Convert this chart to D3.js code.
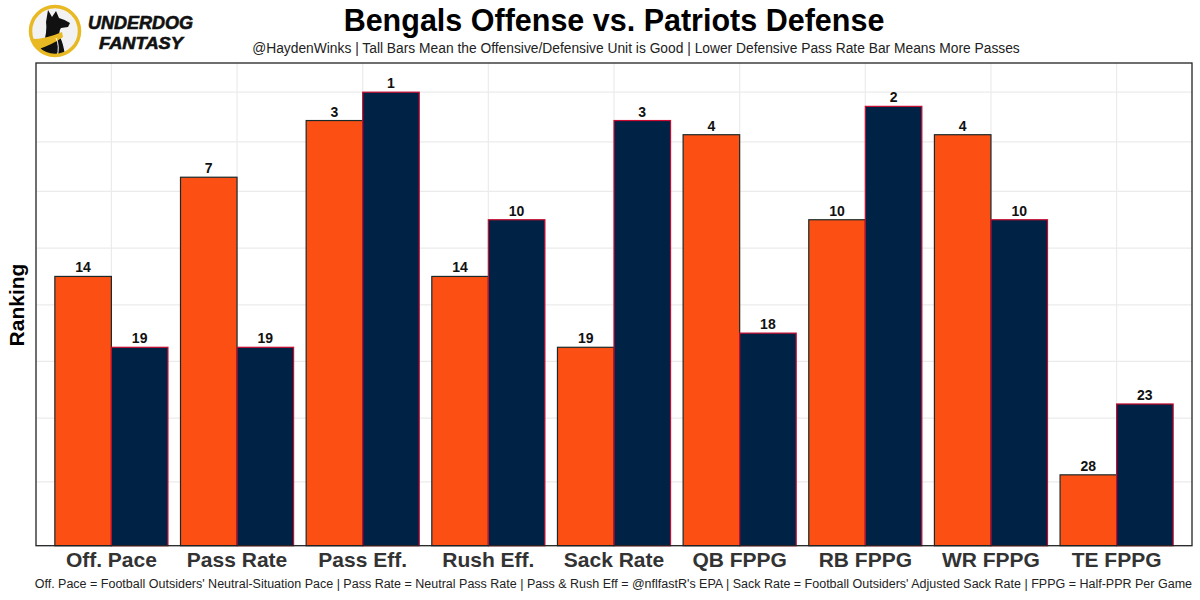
<!DOCTYPE html>
<html>
<head>
<meta charset="utf-8">
<script src="https://cdn.jsdelivr.net/npm/d3@7"></script>
<style>
  html, body { margin: 0; padding: 0; background: #fff; }
  svg { display: block; font-family: "Liberation Sans", Arial, sans-serif; }
</style>
</head>
<body>
<svg id="chart" width="1200" height="600"></svg>
<script>
const categories = ["Off. Pace", "Pass Rate", "Pass Eff.", "Rush Eff.", "Sack Rate", "QB FPPG", "RB FPPG", "WR FPPG", "TE FPPG"];
const offenseRank = [14, 7, 3, 14, 19, 4, 10, 4, 28];
const defenseRank = [19, 19, 1, 10, 3, 18, 2, 10, 23];
const gridRanks = [1, 4.5, 8, 12, 16, 20, 24, 28.5];
const seriesNames = ["Offense", "Defense"];
const maxRank = 33;

const svg = d3.select("#chart");
const panel = { left: 36, right: 1192, top: 63, bottom: 545.7 };

const x = d3.scaleBand().domain(categories).range([panel.left, panel.right]).paddingInner(0.1).paddingOuter(0.15);
const xi = d3.scaleBand().domain(seriesNames).range([0, x.bandwidth()]);
const y = d3.scaleLinear().domain([0, 34.06]).range([panel.bottom, panel.top]);
const h = r => maxRank - r;

// gridlines
const g = svg.append("g");
g.selectAll("line.hg").data(gridRanks).join("line")
  .attr("x1", panel.left).attr("x2", panel.right)
  .attr("y1", d => y(h(d))).attr("y2", d => y(h(d)))
  .attr("stroke", "#ebebeb").attr("stroke-width", 1.2);
g.selectAll("line.vg").data(categories).join("line")
  .attr("x1", d => x(d) + x.bandwidth() / 2).attr("x2", d => x(d) + x.bandwidth() / 2)
  .attr("y1", panel.top).attr("y2", panel.bottom)
  .attr("stroke", "#ebebeb").attr("stroke-width", 1.2);

const rows = categories.map((c, i) => ({ c, vals: [
  { s: "Offense", r: offenseRank[i] },
  { s: "Defense", r: defenseRank[i] }
]}));

const grp = svg.append("g").selectAll("g").data(rows).join("g")
  .attr("transform", d => `translate(${x(d.c)},0)`);

grp.selectAll("rect").data(d => d.vals).join("rect")
  .attr("x", d => xi(d.s))
  .attr("width", xi.bandwidth())
  .attr("y", d => y(h(d.r)))
  .attr("height", d => y(0) - y(h(d.r)))
  .attr("fill", d => d.s === "Offense" ? "#FB4F14" : "#002244")
  .attr("stroke", d => d.s === "Offense" ? "#1a2a2a" : "#C60C30")
  .attr("stroke-width", 1.2);

grp.selectAll("text").data(d => d.vals).join("text")
  .attr("x", d => xi(d.s) + xi.bandwidth() / 2)
  .attr("y", d => y(h(d.r)) - 4)
  .attr("text-anchor", "middle")
  .attr("font-size", 14).attr("font-weight", "bold").attr("fill", "#111")
  .text(d => d.r);

// panel border
svg.append("rect")
  .attr("x", panel.left).attr("y", panel.top)
  .attr("width", panel.right - panel.left).attr("height", panel.bottom - panel.top)
  .attr("fill", "none").attr("stroke", "#222").attr("stroke-width", 1.3);

// x axis labels
const xAxis = d3.axisBottom(x).tickSize(0).tickPadding(6);
const xa = svg.append("g").attr("transform", `translate(0,${panel.bottom})`).call(xAxis);
xa.select(".domain").remove();
xa.selectAll("text").attr("font-size", 21).attr("font-weight", "bold").attr("fill", "#333")
  .attr("font-family", "Liberation Sans, Arial, sans-serif");

// y title
svg.append("text").attr("transform", "translate(24,305) rotate(-90)")
  .attr("text-anchor", "middle").attr("font-size", 21).attr("font-weight", "bold").attr("fill", "#000")
  .text("Ranking");

// title & subtitle
svg.append("text").attr("x", 614).attr("y", 31).attr("text-anchor", "middle")
  .attr("font-size", 30.5).attr("font-weight", "bold").attr("fill", "#000")
  .text("Bengals Offense vs. Patriots Defense");
svg.append("text").attr("x", 636).attr("y", 53).attr("text-anchor", "middle")
  .attr("font-size", 13.8).attr("fill", "#222")
  .text("@HaydenWinks | Tall Bars Mean the Offensive/Defensive Unit is Good | Lower Defensive Pass Rate Bar Means More Passes");

// caption
svg.append("text").attr("x", 1192).attr("y", 588).attr("text-anchor", "end")
  .attr("font-size", 12.5).attr("fill", "#222")
  .text("Off. Pace = Football Outsiders' Neutral-Situation Pace | Pass Rate = Neutral Pass Rate | Pass & Rush Eff = @nflfastR's EPA | Sack Rate = Football Outsiders' Adjusted Sack Rate | FPPG = Half-PPR Per Game");

// logo
const logo = svg.append("g");
logo.append("clipPath").attr("id", "lc").append("circle").attr("cx", 55).attr("cy", 31).attr("r", 24);
logo.append("circle").attr("cx", 55).attr("cy", 31).attr("r", 24).attr("fill", "#f2f2f2");
const inner = logo.append("g").attr("clip-path", "url(#lc)");
inner.append("path").attr("fill", "#111")
  .attr("d", "M48,10 L52,17 L56,11 L59,18 Q66,20 70,23 L68,27 L61,28 Q58,32 60,37 Q64,45 65,57 L38,57 Q40,47 45,38 Q47,30 46,22 Z");
inner.append("path").attr("fill", "#E8B923")
  .attr("d", "M28,39 Q44,40 62,32 L63,37 Q52,45 36,50 Q30,46 28,39 Z");
inner.append("path").attr("fill", "none").attr("stroke", "#fff").attr("stroke-width", 1)
  .attr("d", "M56,38 Q60,46 57,57");
logo.append("circle").attr("cx", 55).attr("cy", 31).attr("r", 24.5).attr("fill", "none")
  .attr("stroke", "#E8B923").attr("stroke-width", 3.5);
logo.append("text").attr("x", 88).attr("y", 29).attr("font-size", 18).attr("font-weight", "bold")
  .attr("font-style", "italic").attr("fill", "#111").attr("textLength", 105).attr("lengthAdjust", "spacingAndGlyphs")
  .attr("stroke", "#111").attr("stroke-width", 0.6)
  .text("UNDERDOG");
logo.append("text").attr("x", 99).attr("y", 49).attr("font-size", 17).attr("font-weight", "bold")
  .attr("font-style", "italic").attr("fill", "#111").attr("textLength", 84).attr("lengthAdjust", "spacingAndGlyphs")
  .attr("stroke", "#111").attr("stroke-width", 0.6)
  .text("FANTASY");
</script>
</body>
</html>
